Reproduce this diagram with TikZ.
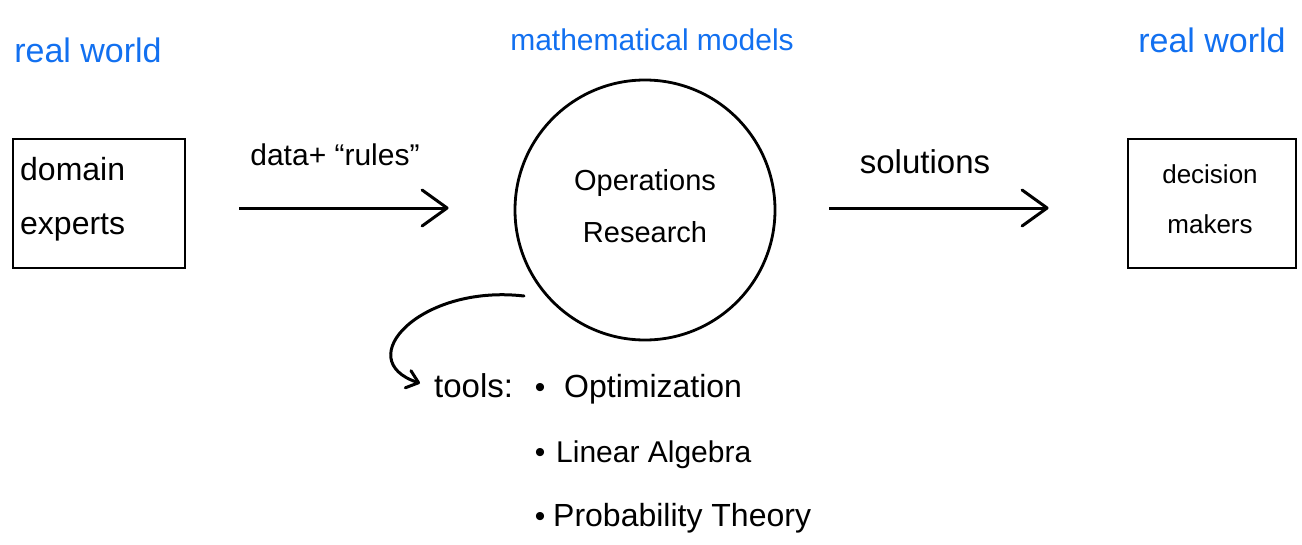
\documentclass[tikz,border=0pt]{standalone}
\usepackage{fontspec}
\setmainfont{Liberation Sans}
\usetikzlibrary{arrows.meta}
\definecolor{hand}{RGB}{18,112,240}
\tikzset{
  bluelbl/.style={text=hand, font=\fontsize{30}{34}\selectfont, inner sep=0pt},
  blk/.style={font=\fontsize{30}{34}\selectfont, inner sep=0pt},
  box/.style={draw, line width=2.8pt, minimum width=172pt, minimum height=129pt, inner sep=0pt},
  arr/.style={line width=3pt, -{Straight Barb[length=25pt,width=36pt,line cap=round,line join=round]}},
  carr/.style={line width=3pt, line cap=round, -{Straight Barb[length=11pt,width=18pt,line cap=round,line join=round]}},
}
\begin{document}
\begin{tikzpicture}[x=1pt,y=-1pt]
\useasboundingbox (0,0) rectangle (1302,544);
% blue headers
\node[bluelbl, font=\fontsize{34}{38}\selectfont] (rw1) at (88,50) {real world};
\node[bluelbl] (mm) at (652,40) {mathematical models};
\node[bluelbl, font=\fontsize{34}{38}\selectfont] (rw2) at (1212,40) {real world};
% boxes
\node[box] (left) at (99,203.5) {};
\node[blk, anchor=west, align=left, font=\fontsize{32}{54}\selectfont] (lt) at (20,199) {domain\\experts};
\node[box, minimum width=168pt] (right) at (1212,203.5) {};
\node[blk, align=center, font=\fontsize{26}{50}\selectfont] (rt) at (1210,199) {decision\\makers};
% circle
\node[draw, circle, line width=2.8pt, minimum size=260pt, inner sep=0pt] (or) at (645,210) {};
\node[blk, align=center, font=\fontsize{29}{52}\selectfont] (ort) at (645,206) {Operations\\Research};
% arrows
\draw[arr] ([shift={(53,4.5)}]left.east) -- ([shift={(-65,-2)}]or.west);
\node[blk] (dr) at (335,155) {data+ ``rules''};
\draw[arr] ([shift={(53,-2)}]or.east) -- ([shift={(-78,4.5)}]right.west);
\node[blk, font=\fontsize{33}{36}\selectfont] (sol) at (925,162) {solutions};
% tools
\node[blk, anchor=base west, font=\fontsize{33}{36}\selectfont] (tools) at (434,397) {tools:};
\node[blk, anchor=base] (b1) at (540,397) {•};
\node[blk, anchor=base west, font=\fontsize{32}{36}\selectfont] (t1) at (564,397) {Optimization};
\node[blk, anchor=base] (b2) at (540,462) {•};
\node[blk, anchor=base west] (t2) at (556,462) {Linear Algebra};
\node[blk, anchor=base] (b3) at (540,526) {•};
\node[blk, anchor=base west, font=\fontsize{32}{36}\selectfont] (t3) at (553,526) {Probability Theory};
\coordinate (cs) at (524,296);
\draw[carr] (cs) .. controls (420,284) and (350,360) .. ([shift={(-14,-2)}]tools.west);
\end{tikzpicture}
\end{document}
